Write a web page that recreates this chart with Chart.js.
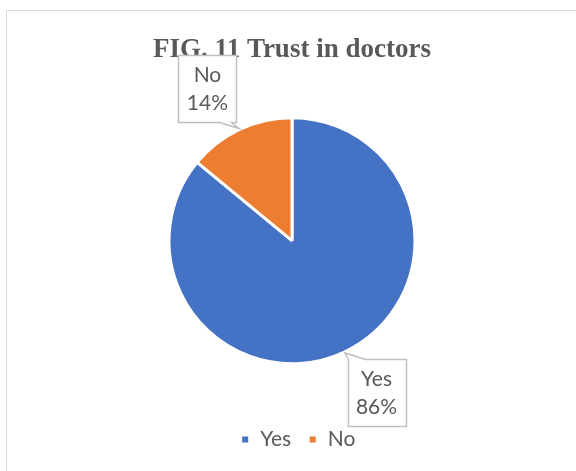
<!DOCTYPE html>
<html>
<head>
<meta charset="utf-8">
<script src="https://cdn.jsdelivr.net/npm/chart.js@4.4.0/dist/chart.umd.min.js"></script>
<style>
  body { margin: 0; background: #fff; }
  #wrap { position: relative; width: 576px; height: 471px; overflow: hidden; }
  #frame { position: absolute; left: 6px; top: 10px; width: 620px; height: 520px; border: 1px solid #d9d9d9; }
  canvas { position: absolute; left: 0; top: 0; }
</style>
</head>
<body>
<div id="wrap">
  <div id="frame"></div>
  <canvas id="grafico" width="576" height="471"></canvas>
</div>
<script>
const categorias = ["Yes", "No"];
const valores = [86, 14];
const cores = ["#4472C4", "#ED7D31"];
const titulo = "FIG. 11 Trust in doctors";

// caixinhas com "rotulo + %" ligadas a fatia
const calloutPlugin = {
    id: "callouts",
    afterLayout(chart) {
        // legenda um pouco mais para a direita, como no original
        chart.legend.left += 6;
        chart.legend.right += 6;
    },
    afterDatasetsDraw(chart) {
        const ctx = chart.ctx;
        const meta = chart.getDatasetMeta(0);
        const total = valores.reduce((a, b) => a + b, 0);
        meta.data.forEach((arc, i) => {
            const p = arc.getProps(["x", "y", "startAngle", "endAngle", "outerRadius"], true);
            const mid = (p.startAngle + p.endAngle) / 2;
            const cx = Math.cos(mid), cy = Math.sin(mid);
            const tipX = p.x + cx * (p.outerRadius + 1);
            const tipY = p.y + cy * (p.outerRadius + 1);
            const dist = p.outerRadius + 45;
            const bx = p.x + cx * dist + Math.sign(cx) * 13;
            const by = p.y + cy * dist;
            const w = 58, h = 67;
            const x0 = Math.round(bx - w / 2) + 0.5, y0 = Math.round(by - h / 2) + 0.5;
            const x1 = x0 + w, y1 = y0 + h;

            ctx.save();
            ctx.beginPath();
            if (cy < 0) {
                // ponteiro na borda de baixo, perto do canto direito
                ctx.moveTo(x0, y0);
                ctx.lineTo(x1, y0);
                ctx.lineTo(x1, y1);
                ctx.lineTo(x1 - 5, y1);
                ctx.lineTo(tipX, tipY);
                ctx.lineTo(x1 - 17, y1);
                ctx.lineTo(x0, y1);
            } else {
                // ponteiro na borda de cima, perto do canto esquerdo
                ctx.moveTo(x0, y0);
                ctx.lineTo(tipX, tipY);
                ctx.lineTo(x0 + 17, y0);
                ctx.lineTo(x1, y0);
                ctx.lineTo(x1, y1);
                ctx.lineTo(x0, y1);
            }
            ctx.closePath();
            ctx.fillStyle = "#ffffff";
            ctx.fill();
            ctx.strokeStyle = "#bfbfbf";
            ctx.lineWidth = 1.5;
            ctx.stroke();

            ctx.fillStyle = "#595959";
            ctx.font = "21px Lato";
            ctx.textAlign = "center";
            ctx.textBaseline = "middle";
            const pct = Math.round(valores[i] / total * 100) + "%";
            ctx.fillText(categorias[i], bx, by - 13);
            ctx.fillText(pct, bx, by + 15);
            ctx.restore();
        });
    }
};

const config = {
    type: "pie",
    data: {
        labels: categorias,
        datasets: [{
            data: valores,
            backgroundColor: cores,
            borderColor: "#ffffff",
            borderWidth: 3,
            radius: 123
        }]
    },
    options: {
        responsive: false,
        animation: false,
        layout: { padding: { left: 8, right: 0, top: 0, bottom: 11 } },
        plugins: {
            title: {
                display: true,
                text: titulo,
                color: "#595959",
                font: { family: "'Liberation Serif'", size: 27, weight: "bold" },
                padding: { top: 34, bottom: 3 }
            },
            legend: {
                position: "bottom",
                labels: {
                    color: "#595959",
                    font: { family: "Lato", size: 21 },
                    boxWidth: 9,
                    boxHeight: 9,
                    padding: 17
                }
            },
            tooltip: { enabled: false }
        }
    },
    plugins: [calloutPlugin]
};

let myChart = new Chart(document.getElementById("grafico"), config);
</script>
</body>
</html>
